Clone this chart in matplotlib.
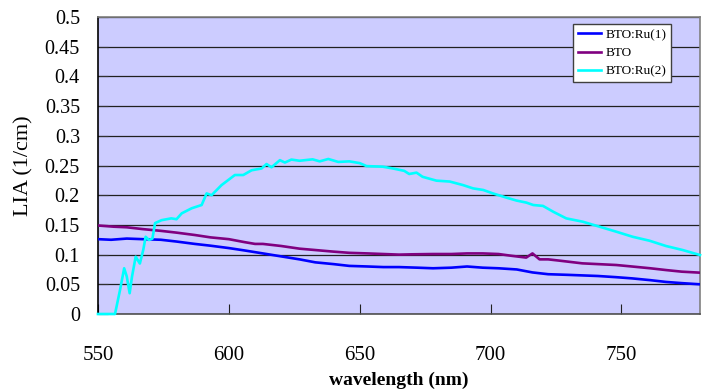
import numpy as np
import matplotlib
matplotlib.use('Agg')
import matplotlib.pyplot as plt
plt.rcParams['font.family'] = 'Liberation Serif'

# values
wl_ru1 = [550, 555, 561, 567, 574, 580, 587, 593, 600, 606, 613, 620, 627, 633,
          640, 646, 653, 659, 665, 672, 678, 685, 691, 697, 703, 710, 716, 722,
          729, 735, 741, 748, 754, 761, 767, 773, 780]
lia_ru1 = [0.126, 0.125, 0.127, 0.126, 0.125, 0.122, 0.118, 0.115, 0.111, 0.107,
           0.102, 0.097, 0.092, 0.087, 0.084, 0.081, 0.080, 0.079, 0.079, 0.078,
           0.077, 0.078, 0.080, 0.078, 0.077, 0.075, 0.070, 0.067, 0.066, 0.065,
           0.064, 0.062, 0.060, 0.057, 0.054, 0.052, 0.050]

wl_bto = [550, 556, 561, 567, 574, 580, 587, 593, 600, 606, 610, 613, 620, 627,
          633, 640, 646, 653, 659, 665, 670, 678, 685, 691, 697, 703, 708, 713.6,
          716, 718.7, 722, 726, 735, 741, 748, 754, 761, 767, 773, 780]
lia_bto = [0.149, 0.147, 0.146, 0.143, 0.140, 0.137, 0.133, 0.129, 0.126, 0.121,
           0.118, 0.118, 0.1145, 0.110, 0.1077, 0.105, 0.103, 0.102, 0.101, 0.100,
           0.1005, 0.101, 0.101, 0.102, 0.102, 0.101, 0.098, 0.095, 0.102, 0.092,
           0.092, 0.090, 0.0853, 0.084, 0.0825, 0.080, 0.077, 0.074, 0.0713, 0.0696]

wl_ru2 = [550, 556.5, 558.4, 560, 561, 562.1, 563, 564.4, 566, 567.3, 568.2,
          569.5, 570.8, 571.8, 574.3, 578, 580, 582, 585.8, 589.6, 591.5, 593.4,
          597.2, 602.3, 605.5, 608.7, 612.5, 614.4, 616.3, 619.5, 621.4, 623.9,
          627, 632, 634.7, 638, 641.8, 646, 650, 652.6, 658.8, 662.7, 667, 668.9,
          671.7, 674, 679.3, 684.4, 689.5, 693.3, 697.2, 700.9, 706, 709.9, 713.7,
          716.3, 720, 724, 728.9, 735.2, 741.6, 748, 754.3, 760.7, 767, 773.4, 780]
lia_ru2 = [0, 0, 0.040, 0.077, 0.063, 0.035, 0.063, 0.0965, 0.085, 0.108, 0.130,
           0.1246, 0.127, 0.153, 0.158, 0.161, 0.1596, 0.1695, 0.178, 0.1835,
           0.203, 0.200, 0.217, 0.234, 0.234, 0.242, 0.245, 0.2525, 0.247, 0.259,
           0.255, 0.260, 0.258, 0.2604, 0.257, 0.261, 0.256, 0.257, 0.254, 0.249,
           0.248, 0.245, 0.241, 0.2357, 0.238, 0.231, 0.2245, 0.223, 0.217, 0.2115,
           0.2088, 0.203, 0.196, 0.191, 0.1875, 0.1835, 0.182, 0.172, 0.161,
           0.1554, 0.147, 0.1386, 0.130, 0.1234, 0.1145, 0.1077, 0.0993]

fig = plt.figure(figsize=(7.08, 3.91), dpi=100)
ax = fig.add_axes([0.1384, 0.1969, 0.8503, 0.7596])
ax.set_facecolor('#CCCCFF')

ax.plot(wl_ru1, lia_ru1, color='#0000FF', lw=1.9, label='BTO:Ru(1)', zorder=3)
ax.plot(wl_bto, lia_bto, color='#800080', lw=1.9, label='BTO', zorder=3)
ax.plot(wl_ru2, lia_ru2, color='#00FFFF', lw=1.9, label='BTO:Ru(2)', zorder=4,
        clip_on=False)

ax.set_xlim(550, 780)
ax.set_ylim(0, 0.5)
ax.set_xticks([550, 600, 650, 700, 750])
ax.set_yticks(np.arange(0, 0.51, 0.05))
ax.set_yticklabels(['0', '0.05', '0.1', '0.15', '0.2', '0.25', '0.3', '0.35',
                    '0.4', '0.45', '0.5'])
ax.yaxis.grid(True, color='#202020', lw=0.9, zorder=1)
ax.set_axisbelow(True)

ax.tick_params(axis='y', direction='in', length=7, pad=13, labelsize=14.5, color='#303030')
ax.tick_params(axis='x', direction='in', length=7, pad=23, labelsize=15, color='#202020')

ax.spines['top'].set_color('#808080')
ax.spines['right'].set_color('#808080')
ax.spines['left'].set_color('#000000')
ax.spines['bottom'].set_color('#505050')
for s in ax.spines.values():
    s.set_linewidth(1.2)

ax.set_xlabel('wavelength (nm)', fontsize=14, fontweight='bold', labelpad=5)
ax.set_ylabel('LIA (1/cm)', fontsize=16, labelpad=8)

leg = ax.legend(loc='upper left', bbox_to_anchor=(0.789, 0.976), borderaxespad=0,
                fontsize=9.5, fancybox=False, framealpha=1, edgecolor='#404040',
                handlelength=1.8, handletextpad=0.3, borderpad=0.35,
                labelspacing=0.45)
leg.get_frame().set_linewidth(1.0)

fig.savefig('out.png', dpi=100)
